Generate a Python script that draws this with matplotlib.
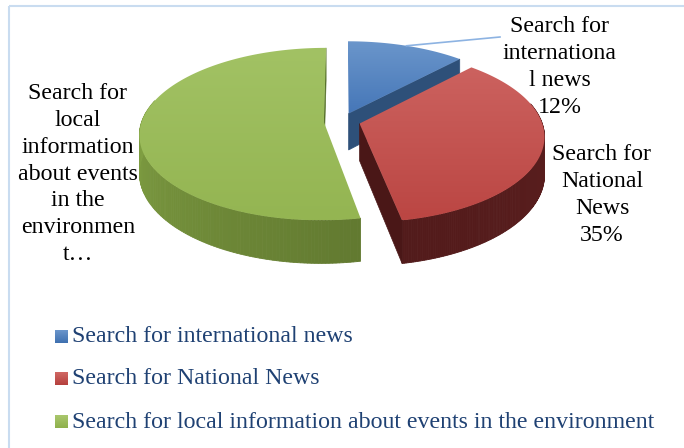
import matplotlib
matplotlib.use("Agg")
import matplotlib.pyplot as plt
from matplotlib.patches import Polygon, Rectangle
from matplotlib.colors import to_rgb
import numpy as np

categories = ["Search for international news",
              "Search for National News",
              "Search for local information about events in the environment"]
shares = [12, 35, 53]
slice_labels = ["Search for\ninternationa\nl news\n12%",
                "Search for\nNational\nNews\n35%",
                "Search for\nlocal\ninformation\nabout events\nin the\nenvironmen\nt\u2026"]

top_cols = [("#6b96cb", "#4677b8"), ("#cc625f", "#bb4643"), ("#a2c264", "#94b552")]
side_cols = [("#34577f", "#2b4a70"), ("#5a1e1e", "#481616"), ("#4b5d22", "#7f9e42")]
edge_cols = ["#2e5079", "#4a1717", "#56702a"]
legend_cols = [("#6b96cb", "#3f70b0"), ("#d06864", "#b5403d"), ("#a9c76d", "#8fb04c")]

# projection of the tilted pie (pixel space)
X0, Y0, R, A, K, H = 342.0, 121.2, 182.0, 84.3, 0.14, 37.0
EXPLODE = 0.1

plt.rcParams['font.family'] = ['Liberation Serif', 'DejaVu Serif']

fig = plt.figure(figsize=(6.84, 4.48), dpi=100)
ax = fig.add_axes([0, 0, 1, 1])
ax.set_xlim(0, 684)
ax.set_ylim(448, 0)
ax.axis("off")


def proj(u, v, z=0.0):
    s = 1.0 / (1.0 + K * v)
    return X0 + R * u * s, Y0 + (-A * v + H * z) * s


def mix(c1, c2, t):
    a, b = np.array(to_rgb(c1)), np.array(to_rgb(c2))
    return tuple(a + (b - a) * t)


def gradient_poly(pts, c_top, c_bot, zorder):
    poly = Polygon(pts, closed=True, facecolor="none", edgecolor="none")
    ax.add_patch(poly)
    ys = np.linspace(0, 1, 64)
    img = np.array([[mix(c_top, c_bot, t)] for t in ys])
    x0, x1 = pts[:, 0].min(), pts[:, 0].max()
    y0, y1 = pts[:, 1].min(), pts[:, 1].max()
    im = ax.imshow(img, extent=(x0, x1, y1, y0), origin="upper",
                   aspect="auto", zorder=zorder, interpolation="bilinear")
    im.set_clip_path(poly)


fracs = np.array(shares) / sum(shares)
bounds = np.concatenate([[0], np.cumsum(fracs) * 360])
draw_order = [0, 2, 1]
anchors = {}
for k, i in enumerate(draw_order):
    t1, t2 = bounds[i], bounds[i + 1]
    mid = np.radians((t1 + t2) / 2)
    cu, cv = EXPLODE * np.sin(mid), EXPLODE * np.cos(mid)
    th = np.radians(np.linspace(t1, t2, 200))
    au, av = cu + np.sin(th), cv + np.cos(th)
    z0 = 10 + k * 5
    # outer side, front facing part
    for j in range(len(th) - 1):
        if np.cos(th[j]) > 0.25:
            continue
        p1 = proj(au[j], av[j]); p2 = proj(au[j + 1], av[j + 1])
        p3 = proj(au[j + 1], av[j + 1], 1); p4 = proj(au[j], av[j], 1)
        t = np.clip((np.degrees(th[j]) - 90) / 180, 0, 1)
        col = mix(side_cols[i][0], side_cols[i][1], t)
        ax.add_patch(Polygon([p1, p2, p3, p4], closed=True, facecolor=col,
                             edgecolor=col, lw=0.6, zorder=z0))
    # radial face at end boundary
    eu, ev = cu + np.sin(th[-1]), cv + np.cos(th[-1])
    face = [proj(cu, cv), proj(eu, ev), proj(eu, ev, 1), proj(cu, cv, 1)]
    ax.add_patch(Polygon(face, closed=True, facecolor=edge_cols[i],
                         edgecolor=edge_cols[i], lw=0.5, zorder=z0 + 1))
    # top surface
    pts = np.array([proj(cu, cv)] + [proj(a, b) for a, b in zip(au, av)])
    gradient_poly(pts, top_cols[i][0], top_cols[i][1], z0 + 2)
    anchors[i] = proj(cu + np.sin(mid), cv + np.cos(mid))

# data labels
label_pos = [(560, 67), (602, 195), (78, 174)]
for i, (lx, ly) in enumerate(label_pos):
    ax.text(lx, ly, slice_labels[i], ha="center", va="center", fontsize=17.2,
            linespacing=1.36, color="black", zorder=40)

# leader line for the small slice
ax.plot([anchors[0][0], 500], [anchors[0][1], 37], color="#8db3e2", lw=1.2, zorder=30)

# chart border
ax.add_patch(Rectangle((8.5, 6.5), 700, 460, facecolor="none",
                       edgecolor="#c9dcf0", lw=1.5, zorder=50))

# legend
leg_y = [337, 379, 422]
for i, name in enumerate(categories):
    sq = np.array([[55, leg_y[i] - 6.5], [68, leg_y[i] - 6.5],
                   [68, leg_y[i] + 6.5], [55, leg_y[i] + 6.5]])
    gradient_poly(sq, legend_cols[i][0], legend_cols[i][1], 40)
    ax.text(72, leg_y[i], name, ha="left", va="center", fontsize=17.2,
            color="#1f4173", zorder=40)

fig.savefig("out.png", dpi=100)
